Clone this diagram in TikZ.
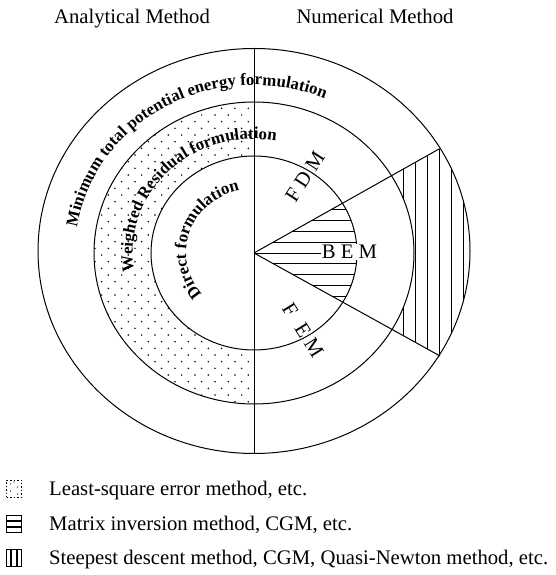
\documentclass[tikz,border=0pt]{standalone}
\usepackage{fontspec}
\setmainfont{Liberation Serif}
\usetikzlibrary{decorations.text,calc}
\begin{document}
\begin{tikzpicture}[x=1pt,y=1pt,
  ring/.style={line width=1.0pt},
  hatch/.style={line width=0.85pt},
  lbl/.style={font=\fontsize{20.7}{22}\selectfont, inner sep=0pt},
  lgd/.style={font=\fontsize{20.7}{22}\selectfont, inner sep=0pt, anchor=base west},
  lgdbox/.style={minimum width=15pt, minimum height=17pt, inner sep=0pt, line width=1.5pt},
  arctext/.style={decorate, decoration={text along path, text align=center,
     text={|\fontsize{16.8}{18}\selectfont\bfseries|#1}}}
]
\useasboundingbox (0,0) rectangle (555,575);
\coordinate (C) at (254,322);
\coordinate (Co) at (254,324);
\coordinate (T) at (254,526.5);
\coordinate (B) at (254,121.5);
\coordinate (W1) at (439,426);
\coordinate (W2) at (440,219);

% vertical hatch in outer ring wedge
\begin{scope}
  \clip (Co) ellipse[x radius=216pt, y radius=202.5pt];
  \clip (C) -- ($(C)!2!(W1)$) -- ($(C)!2!(W2)$) -- cycle;
  \foreach \X in {403,415,427,439,451,463} \draw[hatch] (\X,100) -- (\X,550);
\end{scope}
\fill[white] (C) ellipse[x radius=160pt, y radius=151pt];

% dotted ring (left half)
\begin{scope}
  \clip (254,473) arc[start angle=90, end angle=270, x radius=160pt, y radius=151pt] -- cycle;
  \foreach \i in {0,...,46}{
    \pgfmathsetmacro{\yy}{173.3+6.667*\i}
    \pgfmathsetmacro{\xo}{248.3-6.667*mod(\i,2)}
    \foreach \m in {0,...,12}{
      \fill ({\xo-13.333*\m},\yy) circle (0.85pt);
    }
  }
\end{scope}
\fill[white] (C) ellipse[x radius=103pt, y radius=97pt];

% horizontal hatch in inner wedge
\begin{scope}
  \clip (C) ellipse[x radius=103pt, y radius=97pt];
  \clip (C) -- ($(C)!2!(W1)$) -- ($(C)!2!(W2)$) -- cycle;
  \foreach \k in {-4,...,4} \draw[hatch] (250,{322+10.9*\k}) -- (400,{322+10.9*\k});
\end{scope}

% outlines
\draw[ring] (Co) ellipse[x radius=216pt, y radius=202.5pt];
\draw[ring] (C) ellipse[x radius=160pt, y radius=151pt];
\draw[ring] (C) ellipse[x radius=103pt, y radius=97pt];
\draw[ring] (T) -- (B);
\draw[ring] (C) -- (W1);
\draw[ring] (C) -- (W2);

% labels in the numerical half
\node[lbl, rotate=57] (fdm) at (305,398) {F D M};
\node[lbl, fill=white, inner sep=1pt] (bem) at (349.5,323) {B E M};
\node[lbl, rotate=-58] (fem) at (303,245) {F\,\, E M};

% curved texts
\path[arctext={Minimum total potential energy formulation}]
  ($(C)+(199.5:179pt and 168pt)$) arc[start angle=199.5, end angle=39.5, x radius=179pt, y radius=168pt];
\path[arctext={Weighted Residual formulation}]
  ($(C)+(215:121.4pt and 114pt)$) arc[start angle=215, end angle=55, x radius=121.4pt, y radius=114pt];
\path[arctext={Direct formulation}]
  ($(C)+(241.5:68pt and 64pt)$) arc[start angle=241.5, end angle=81.5, x radius=68pt, y radius=64pt];

% titles
\node[lbl, anchor=base] (ana) at (132,551) {Analytical Method};
\node[lbl, anchor=base] (num) at (375,551) {Numerical Method};

% legend
\node[lgdbox, draw, dotted] (b1) at (14,86) {};
\foreach \p in {(10.5,91),(17.5,88),(10.5,84),(17.5,81),(14,93)} \fill \p circle (0.7pt);
\node[lgdbox, draw] (b2) at (14,51) {};
\draw[line width=1.5pt] ($(b2.north west)!0.333!(b2.south west)$) -- ($(b2.north east)!0.333!(b2.south east)$);
\draw[line width=1.5pt] ($(b2.north west)!0.667!(b2.south west)$) -- ($(b2.north east)!0.667!(b2.south east)$);
\node[lgdbox, draw] (b3) at (14,17) {};
\draw[line width=1.5pt] ($(b3.north west)!0.333!(b3.north east)$) -- ($(b3.south west)!0.333!(b3.south east)$);
\draw[line width=1.5pt] ($(b3.north west)!0.667!(b3.north east)$) -- ($(b3.south west)!0.667!(b3.south east)$);
\node[lgd] (t1) at (49,79) {Least-square error method, etc.};
\node[lgd] (t2) at (49,44) {Matrix inversion method, CGM, etc.};
\node[lgd] (t3) at (49,10) {Steepest descent method, CGM, Quasi-Newton method, etc.};
\end{tikzpicture}
\end{document}
